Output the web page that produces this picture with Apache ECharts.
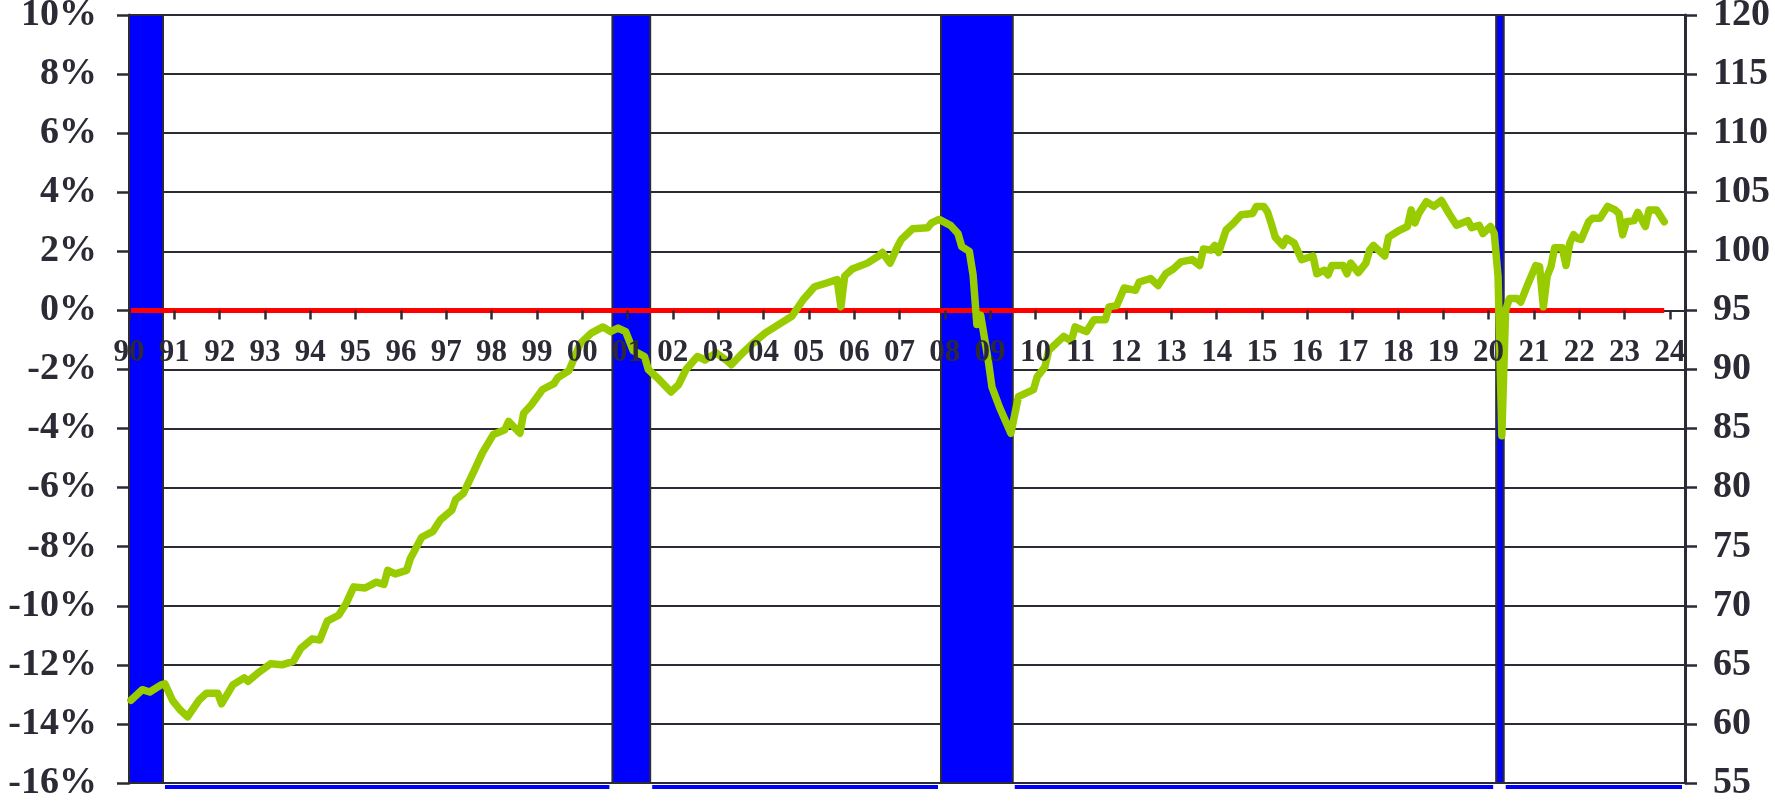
<!DOCTYPE html>
<html>
<head>
<meta charset="utf-8">
<script src="https://cdn.jsdelivr.net/npm/echarts@6/dist/echarts.min.js"></script>
<style>
  html, body { margin: 0; padding: 0; background: #ffffff; }
  #chart { width: 1775px; height: 802px; }
</style>
</head>
<body>
<div id="chart"></div>
<script>
// Monthly observations of the index (right axis), year-month
const obsDates = [
  '1990-01','1990-04','1990-06','1990-09','1990-10','1990-12','1991-02','1991-04','1991-07','1991-09',
  '1991-12','1992-01','1992-04','1992-07','1992-08','1992-11','1993-02','1993-05','1993-08','1993-10',
  '1994-01','1994-03','1994-05','1994-08','1994-10','1994-12','1995-03','1995-06','1995-08','1995-09',
  '1995-11','1996-02','1996-03','1996-06','1996-09','1996-11','1997-02','1997-03','1997-05','1997-08',
  '1997-10','1998-01','1998-04','1998-05','1998-08','1998-09','1998-11','1999-02','1999-05','1999-06',
  '1999-09','1999-12','2000-03','2000-06','2000-08','2000-10','2000-12','2001-02','2001-05','2001-06',
  '2001-09','2001-12','2002-02','2002-04','2002-07','2002-09','2002-12','2003-03','2003-04','2003-07',
  '2003-10','2004-01','2004-05','2004-08','2004-11','2005-02','2005-05','2005-08','2005-09','2005-10',
  '2005-12','2006-04','2006-07','2006-08','2006-10','2006-12','2007-01','2007-04','2007-08','2007-09',
  '2007-11','2008-02','2008-04','2008-05','2008-07','2008-08','2008-09','2008-10','2008-12','2009-01',
  '2009-03','2009-06','2009-08','2009-12','2010-01','2010-03','2010-04','2010-08','2010-10','2010-11',
  '2011-02','2011-04','2011-07','2011-08','2011-10','2011-12','2012-03','2012-04','2012-07','2012-09',
  '2012-11','2013-01','2013-03','2013-06','2013-08','2013-09','2013-11','2013-12','2014-01','2014-03',
  '2014-05','2014-07','2014-10','2014-11','2015-01','2015-02','2015-03','2015-04','2015-06','2015-07',
  '2015-09','2015-11','2016-02','2016-03','2016-05','2016-06','2016-07','2016-10','2016-11','2016-12',
  '2017-02','2017-04','2017-05','2017-06','2017-08','2017-09','2017-10','2018-01','2018-03','2018-04',
  '2018-05','2018-06','2018-08','2018-10','2018-12','2019-02','2019-04','2019-07','2019-08','2019-10',
  '2019-11','2020-01','2020-02','2020-03','2020-04','2020-05','2020-06','2020-08','2020-09','2020-11',
  '2021-01','2021-02','2021-03','2021-04','2021-05','2021-06','2021-08','2021-09','2021-10','2021-11',
  '2021-12','2022-01','2022-03','2022-04','2022-06','2022-08','2022-10','2022-11','2022-12','2023-01',
  '2023-03','2023-04','2023-06','2023-07','2023-09','2023-11'
];
const indexValues = [
  62.0, 62.9, 62.7, 63.3, 63.4, 62.0, 61.2, 60.6, 62.0, 62.6,
  62.6, 61.7, 63.3, 63.9, 63.6, 64.4, 65.1, 65.0, 65.3, 66.4,
  67.2, 67.1, 68.7, 69.2, 70.2, 71.6, 71.5, 72.0, 71.8, 73.0,
  72.7, 73.0, 74.0, 75.8, 76.3, 77.3, 78.1, 79.0, 79.5, 81.5,
  82.9, 84.5, 84.9, 85.6, 84.6, 86.3, 87.0, 88.3, 88.8, 89.3,
  89.9, 92.2, 93.1, 93.6, 93.2, 93.5, 93.2, 91.6, 91.1, 90.0,
  89.1, 88.1, 88.7, 90.0, 91.1, 90.8, 91.4, 90.7, 90.4, 91.4,
  92.3, 93.1, 93.9, 94.5, 95.9, 97.0, 97.3, 97.6, 95.3, 97.9,
  98.5, 99.0, 99.6, 99.9, 99.0, 100.4, 101.0, 101.9, 102.0, 102.4,
  102.7, 102.2, 101.5, 100.4, 100.0, 98.0, 93.8, 94.6, 90.8, 88.5,
  86.8, 84.6, 87.7, 88.3, 89.4, 90.2, 91.6, 92.8, 92.4, 93.6,
  93.2, 94.2, 94.2, 95.3, 95.4, 96.9, 96.7, 97.4, 97.7, 97.1,
  98.1, 98.5, 99.1, 99.3, 98.8, 100.2, 100.1, 100.5, 99.9, 101.8,
  102.4, 103.1, 103.2, 103.8, 103.8, 103.3, 102.3, 101.2, 100.5, 101.1,
  100.7, 99.3, 99.6, 98.1, 98.4, 98.0, 98.8, 98.8, 98.1, 99.0,
  98.2, 99.0, 100.1, 100.5, 99.9, 99.6, 101.2, 101.8, 102.1, 103.5,
  102.4, 103.2, 104.2, 103.8, 104.3, 103.2, 102.2, 102.6, 102.0, 102.2,
  101.5, 102.1, 101.5, 97.9, 84.4, 95.0, 96.0, 96.0, 95.7, 97.3,
  98.8, 98.7, 95.3, 97.9, 98.7, 100.3, 100.3, 98.8, 100.7, 101.4,
  101.1, 101.0, 102.5, 102.8, 102.8, 103.8, 103.5, 103.2, 101.4, 102.5,
  102.6, 103.3, 102.1, 103.5, 103.5, 102.5
];

// Recession periods (first and last month, inclusive)
const recessionStart = ['1990-01', '2000-09', '2007-12', '2020-03'];
const recessionEnd   = ['1990-09', '2001-06', '2009-06', '2020-04'];

// Axis scales
const yearMin = 1990;
const yearMax = 2024 + 4 / 12;
const pctMin = -16, pctMax = 10, pctStep = 2;
const idxMin = 55, idxMax = 120, idxStep = 5;

function monthStart(s) {
  const [y, m] = s.split('-').map(Number);
  return y + (m - 1) / 12;
}
function monthMid(s) { return monthStart(s) + 0.5 / 12; }
function monthEnd(s) { return monthStart(s) + 1 / 12; }

const indexSeries = obsDates.map((d, i) => [monthMid(d), indexValues[i]]);
const zeroSeries = [[monthMid(obsDates[0]), 0], [monthMid(obsDates[obsDates.length - 1]), 0]];
const recessionSpans = recessionStart.map((s, i) => [monthStart(s), monthEnd(recessionEnd[i])]);
// stretches of the recession indicator at its floor, between the shaded periods
const floorSpans = recessionSpans.map((span, i) => [
  span[1],
  i + 1 < recessionSpans.length ? recessionSpans[i + 1][0] : yearMax
]);

// Plot box; the year axis sits on the 0% line, so a second, empty grid ends there
const W = 1775, H = 802;
const plot = { left: 129, right: 90, top: 15, bottom: 19 };
const plotHeight = H - plot.top - plot.bottom;
const zeroY = plot.top + (pctMax - 0) / (pctMax - pctMin) * plotHeight;

const ink = '#2c2b35';
const fontFamily = '"Liberation Serif", "Times New Roman", "DejaVu Serif", serif';

const chart = echarts.init(document.getElementById('chart'), null, { renderer: 'canvas' });

chart.setOption({
  animation: false,
  backgroundColor: '#ffffff',
  grid: [
    { left: plot.left, right: plot.right, top: plot.top, bottom: plot.bottom, containLabel: false, outerBoundsMode: 'none' },
    { left: plot.left, right: plot.right, top: plot.top, bottom: H - zeroY, containLabel: false, outerBoundsMode: 'none' }
  ],
  xAxis: [
    {
      type: 'value',
      gridIndex: 0,
      min: yearMin,
      max: yearMax,
      interval: 1,
      show: false
    },
    {
      type: 'value',
      gridIndex: 1,
      position: 'bottom',
      min: yearMin,
      max: yearMax,
      interval: 1,
      z: 10,
      axisLine: { show: false },
      axisTick: { show: true, length: 9, lineStyle: { color: ink, width: 2.5 } },
      axisLabel: {
        show: true,
        margin: 27,
        color: ink,
        fontFamily: fontFamily,
        fontWeight: 'bold',
        fontSize: 31,
        showMaxLabel: false,
        formatter: v => (Math.abs(v - Math.round(v)) < 1e-6 ? String(Math.round(v)).slice(2) : '')
      },
      splitLine: { show: false }
    }
  ],
  yAxis: [
    {
      type: 'value',
      gridIndex: 0,
      position: 'left',
      min: pctMin,
      max: pctMax,
      interval: pctStep,
      z: 0,
      axisLine: { show: true, lineStyle: { color: ink, width: 3 } },
      axisTick: { show: true, length: 12, lineStyle: { color: ink, width: 2.5 } },
      axisLabel: {
        margin: 32,
        color: ink,
        fontFamily: fontFamily,
        fontWeight: 'bold',
        fontSize: 38,
        formatter: '{value}%'
      },
      splitLine: { show: true, lineStyle: { color: ink, width: 2 } }
    },
    {
      type: 'value',
      gridIndex: 0,
      position: 'right',
      min: idxMin,
      max: idxMax,
      interval: idxStep,
      z: 0,
      axisLine: { show: true, lineStyle: { color: ink, width: 3 } },
      axisTick: { show: true, length: 12, lineStyle: { color: ink, width: 2.5 } },
      axisLabel: {
        margin: 28,
        color: ink,
        fontFamily: fontFamily,
        fontWeight: 'bold',
        fontSize: 38
      },
      splitLine: { show: false }
    },
    {
      type: 'value',
      gridIndex: 1,
      min: 0,
      max: 1,
      show: false
    }
  ],
  series: [
    {
      name: 'Recession',
      type: 'custom',
      xAxisIndex: 0,
      yAxisIndex: 0,
      z: 1,
      silent: true,
      data: recessionSpans,
      encode: { x: [0, 1] },
      renderItem: (params, api) => {
        const p0 = api.coord([api.value(0), pctMax]);
        const p1 = api.coord([api.value(1), pctMin]);
        return {
          type: 'rect',
          shape: { x: p0[0], y: p0[1], width: p1[0] - p0[0], height: p1[1] - p0[1] },
          style: { fill: '#0000ff', stroke: ink, lineWidth: 2 }
        };
      }
    },
    {
      name: 'Recession floor',
      type: 'custom',
      xAxisIndex: 0,
      yAxisIndex: 0,
      z: 1,
      silent: true,
      clip: false,
      data: floorSpans,
      encode: { x: [0, 1] },
      renderItem: (params, api) => {
        const p0 = api.coord([api.value(0), pctMin]);
        const p1 = api.coord([api.value(1), pctMin]);
        return {
          type: 'rect',
          shape: { x: p0[0] + 2, y: p0[1] + 2, width: p1[0] - p0[0] - 5, height: 4 },
          style: { fill: '#0000ff' }
        };
      }
    },
    {
      name: 'Zero',
      type: 'line',
      xAxisIndex: 0,
      yAxisIndex: 0,
      z: 3,
      silent: true,
      showSymbol: false,
      symbol: 'none',
      data: zeroSeries,
      lineStyle: { color: '#ff0000', width: 5 }
    },
    {
      name: 'Index',
      type: 'line',
      xAxisIndex: 0,
      yAxisIndex: 1,
      z: 4,
      silent: true,
      showSymbol: false,
      symbol: 'none',
      data: indexSeries,
      lineStyle: { color: '#99cc00', width: 7.5, cap: 'round', join: 'round' }
    }
  ]
});
</script>
</body>
</html>
